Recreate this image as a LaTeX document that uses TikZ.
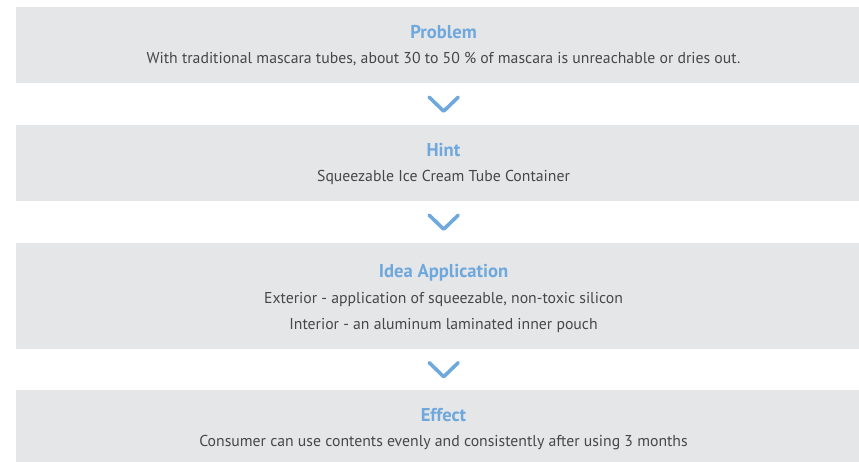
\documentclass[tikz,border=0pt]{standalone}
\usepackage{fontspec}
\setmainfont{PT Sans}
\usetikzlibrary{calc}
\definecolor{stagegrey}{HTML}{E5E6E8}
\definecolor{titleblue}{HTML}{6FA8DC}
\definecolor{bodygrey}{HTML}{474747}

\begin{document}
\begin{tikzpicture}[x=1pt,y=-1pt]
    \pgfmathsetmacro{\stageleft}{16}
    \pgfmathsetmacro{\stagewidth}{843}
    \pgfmathsetmacro{\textx}{443.5}
    \pgfmathsetmacro{\chevwidth}{14.5}
    \pgfmathsetmacro{\chevheight}{7}
    \providecommand{\titlefontsize}{\fontsize{18.6pt}{22pt}\selectfont}
    \providecommand{\bodyfontsize}{\fontsize{15.75pt}{26pt}\selectfont}
    \tikzset{
        stage/.style={rectangle,fill=stagegrey,inner sep=0,anchor=north west,minimum width=\stagewidth pt},
        stagetitle/.style={anchor=base,inner sep=0,text=titleblue,font=\titlefontsize\bfseries},
        stagetext/.style={anchor=base,inner sep=0,text=bodygrey,font=\bodyfontsize,align=center},
        chevron/.style={draw=titleblue,line width=3.6pt,line cap=round,line join=round}
    }
    \useasboundingbox (0,0) rectangle (859,462);
    % grey bands
    \node[stage,minimum height=76pt] (prob) at (\stageleft,7) {};
    \node[stage,minimum height=76pt] (hint) at (\stageleft,125) {};
    \node[stage,minimum height=106pt] (idea) at (\stageleft,243) {};
    \node[stage,minimum height=72pt] (eff) at (\stageleft,390) {};
    % texts
    \node[stagetitle] (probtitle) at (\textx,39) {Problem};
    \node[stagetext] (probtext) at (\textx,64) {With traditional mascara tubes, about 30 to 50 \% of mascara is unreachable or dries out.};
    \node[stagetitle] (hinttitle) at (\textx,157) {Hint};
    \node[stagetext] (hinttext) at (\textx,182) {Squeezable Ice Cream Tube Container};
    \node[stagetitle] (ideatitle) at (\textx,277) {Idea Application};
    \node[stagetext] (ideatext1) at (\textx,303) {Exterior - application of squeezable, non-toxic silicon};
    \node[stagetext] (ideatext2) at (\textx,329) {Interior - an aluminum laminated inner pouch};
    \node[stagetitle] (efftitle) at (\textx,421) {Effect};
    \node[stagetext] (efftext) at (\textx,446) {Consumer can use contents evenly and consistently after using 3 months};
    % chevrons between the bands
    \foreach \a/\b in {prob/hint,hint/idea,idea/eff}
        \draw[chevron] ($(\a.south)!0.5!(\b.north)+(\textx-437.5,0)$) ++(-\chevwidth,-\chevheight) -- ++(\chevwidth,2*\chevheight) -- ++(\chevwidth,-2*\chevheight);
\end{tikzpicture}
\end{document}
